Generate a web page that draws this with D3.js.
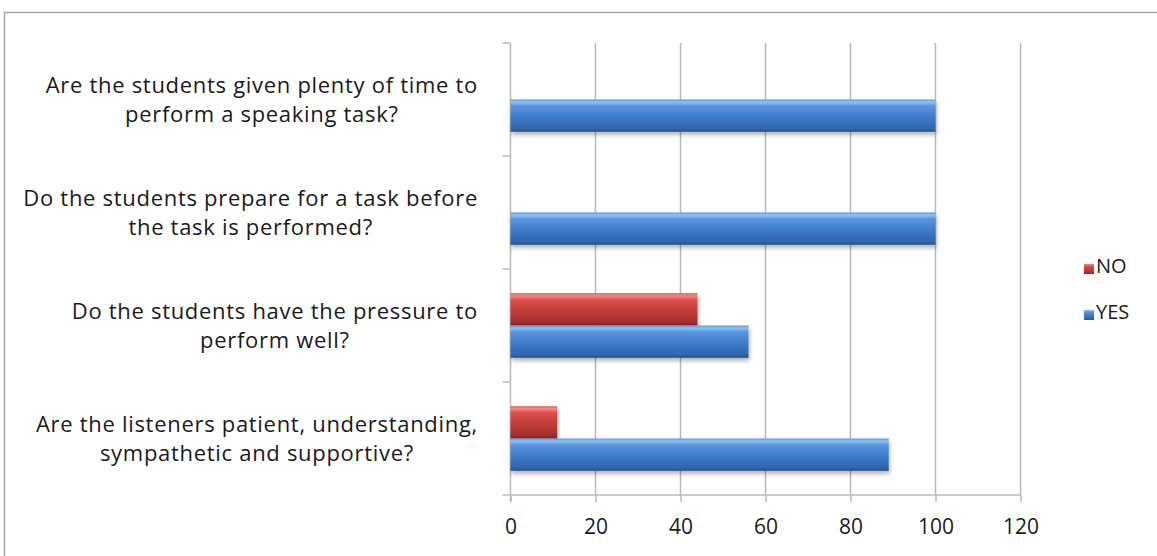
<!DOCTYPE html>
<html>
<head>
<meta charset="utf-8">
<script src="https://cdn.jsdelivr.net/npm/d3@7"></script>
<style>
  body { margin: 0; background: #fff; }
  svg text { font-family: "Open Sans", sans-serif; fill: #1a1a1a; }
</style>
</head>
<body>
<div id="chart"></div>
<script>
// categories top to bottom, each split into label lines as in the original
const questions = [
  ["Are the students given plenty of time to", "perform a speaking task?"],
  ["Do the students prepare for a task before", "the task is performed?"],
  ["Do the students have the pressure to", "perform well?"],
  ["Are the listeners patient, understanding,", "sympathetic and supportive?"]
];
const noValues  = [0, 0, 44, 11];
const yesValues = [100, 100, 56, 89];
const seriesNames = ["NO", "YES"];
const xTicks = [0, 20, 40, 60, 80, 100, 120];

const W = 1157, H = 556;
const plot = {L: 510.5, R: 1020.5, T: 43, B: 495};

var svg = d3.select("#chart").append("svg")
  .attr("width", W)
  .attr("height", H);

var defs = svg.append("defs");
function barGrad(id, stops) {
  var g = defs.append("linearGradient").attr("id", id)
    .attr("x1", 0).attr("x2", 0).attr("y1", 0).attr("y2", 1);
  stops.forEach(function(s) {
    g.append("stop").attr("offset", s[0]).attr("stop-color", s[1]);
  });
}
barGrad("gYes", [[0, "#5d95dc"], [0.08, "#8cc4f5"], [0.2, "#5b94de"], [0.55, "#3f7bcc"], [0.9, "#3165ad"], [1, "#284f85"]]);
barGrad("gNo", [[0, "#d6605c"], [0.08, "#f58a85"], [0.2, "#dc4f4a"], [0.55, "#c43d39"], [0.9, "#a32f2c"], [1, "#7e2422"]]);
var shadow = defs.append("filter").attr("id", "shadow")
  .attr("x", "-5%").attr("y", "-20%").attr("width", "110%").attr("height", "160%");
shadow.append("feDropShadow").attr("dx", 1).attr("dy", 3).attr("stdDeviation", 2)
  .attr("flood-color", "#000").attr("flood-opacity", 0.3);

// chart border (runs off the window on the right and bottom)
svg.append("rect")
  .attr("x", 4.5).attr("y", 12.5)
  .attr("width", W).attr("height", H)
  .style("fill", "#fff")
  .style("stroke", "#a6a6a6")
  .style("stroke-width", 1.5);

var x = d3.scaleLinear().domain([0, 120]).range([plot.L, plot.R]);
var y = d3.scaleBand().domain(d3.range(questions.length)).range([plot.T, plot.B]);
var sub = d3.scaleBand().domain(seriesNames)
  .range([0, y.bandwidth()]).paddingInner(0).paddingOuter(0.75);

// vertical gridlines
svg.append("g").selectAll("line")
  .data(xTicks.slice(1))
  .join("line")
  .attr("x1", function(d) {return x(d);}).attr("x2", function(d) {return x(d);})
  .attr("y1", plot.T).attr("y2", plot.B)
  .style("stroke", "#b8b8b8").style("stroke-width", 1.5);

// x axis
var xAxis = d3.axisBottom(x).tickValues(xTicks).tickSize(7).tickPadding(17);
var gx = svg.append("g")
  .attr("transform", "translate(0," + plot.B + ")")
  .call(xAxis);
gx.select(".domain").remove();
gx.selectAll(".tick line").style("stroke", "#b8b8b8").style("stroke-width", 1.5);
gx.selectAll(".tick text").style("font-size", "21px").style("font-family", "'Open Sans', sans-serif").style("fill", "#1a1a1a");
gx.append("line")
  .attr("x1", plot.L - 8).attr("x2", plot.R)
  .style("stroke", "#b8b8b8").style("stroke-width", 1.5);

// y axis line and category ticks
var yEdges = d3.range(questions.length + 1).map(function(i) {return plot.T + i * y.step();});
svg.append("line")
  .attr("x1", plot.L).attr("x2", plot.L)
  .attr("y1", plot.T).attr("y2", plot.B + 7)
  .style("stroke", "#b8b8b8").style("stroke-width", 1.5);
svg.append("g").selectAll("line")
  .data(yEdges.slice(0, -1))
  .join("line")
  .attr("x1", plot.L - 8).attr("x2", plot.L)
  .attr("y1", function(d) {return d;}).attr("y2", function(d) {return d;})
  .style("stroke", "#b8b8b8").style("stroke-width", 1.5);

// bars
var rows = questions.map(function(q, i) {
  return [{s: "NO", v: noValues[i], i: i}, {s: "YES", v: yesValues[i], i: i}];
});
svg.append("g").selectAll("rect")
  .data(rows.flat().filter(function(d) {return d.v > 0;}))
  .join("rect")
  .attr("x", x(0))
  .attr("y", function(d) {return y(d.i) + sub(d.s);})
  .attr("width", function(d) {return x(d.v) - x(0);})
  .attr("height", sub.bandwidth())
  .attr("filter", "url(#shadow)")
  .style("fill", function(d) {return d.s == "YES" ? "url(#gYes)" : "url(#gNo)";});

// category labels, lines centred on each other and right aligned to the axis
var labels = svg.append("g").selectAll("text")
  .data(questions)
  .join("text")
  .style("font-size", "22px")
  .style("letter-spacing", "0.7px")
  .attr("text-anchor", "middle");
labels.each(function(lines, i) {
  var t = d3.select(this);
  var cy = y(i) + y.bandwidth() / 2;
  lines.forEach(function(l, k) {
    t.append("tspan").text(l)
      .attr("y", cy + (k - (lines.length - 1) / 2) * 29)
      .attr("dy", "0.35em");
  });
  var maxW = d3.max(t.selectAll("tspan").nodes(), function(n) {return n.getComputedTextLength();});
  t.selectAll("tspan").attr("x", 478 - maxW / 2);
});

// legend
var legend = svg.append("g").attr("transform", "translate(1084,264)");
seriesNames.forEach(function(s, k) {
  var g = legend.append("g").attr("transform", "translate(0," + k * 46 + ")");
  g.append("rect").attr("width", 10).attr("height", 10)
    .style("fill", s == "YES" ? "url(#gYes)" : "url(#gNo)");
  g.append("text").attr("x", 12).attr("y", 2).attr("dy", "0.35em")
    .style("font-size", "20px").text(s);
});
</script>
</body>
</html>
